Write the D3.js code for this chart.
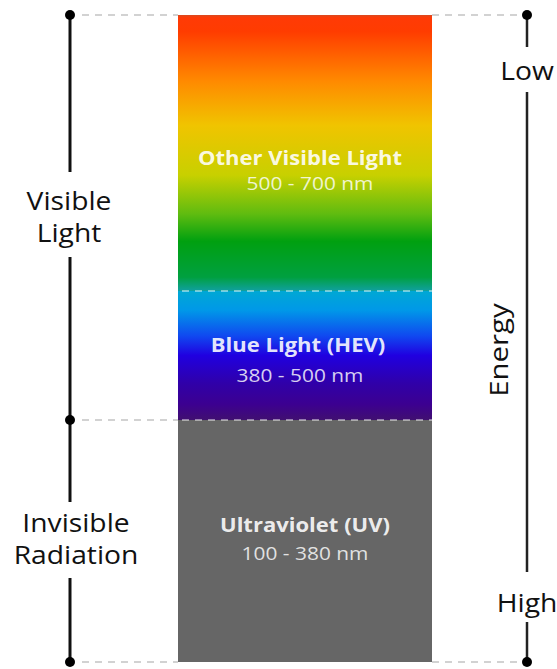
<!DOCTYPE html>
<meta charset="utf-8">
<style>
	body{ margin:0; background:#fff; }
	svg{ display:block; font-family:"Open Sans", sans-serif; }
	.guide{ stroke:#c4c4c4; stroke-width:1.5; stroke-dasharray:7,6; }
	.guide.inner{ stroke:#fff; stroke-opacity:0.6; }
	.side{ font-size:25px; fill:#111; text-anchor:middle; }
	.title{ font-size:19.5px; font-weight:700; fill:#fff; fill-opacity:0.9; text-anchor:middle; }
	.sub{ font-size:18.5px; fill:#fff; fill-opacity:0.82; text-anchor:middle; }
</style>
<body>
<svg width="557" height="669" id="chart"></svg>
<script src="https://cdn.jsdelivr.net/npm/d3@7"></script>
<script>
	// band edges in nm, top to bottom
	var edges = [700, 500, 380, 100];
	var bandNames = ["Other Visible Light", "Blue Light (HEV)", "Ultraviolet (UV)"];
	var bandRanges = ["500 - 700 nm", "380 - 500 nm", "100 - 380 nm"];
	var groupNames = [["Visible", "Light"], ["Invisible", "Radiation"]];
	var energyLabels = ["Low", "Energy", "High"];

	// colour stops, offset 0..1 within each band
	var visibleStops = [[0, "#d84a20"], [0.01, "#ff3a06"], [0.06, "#ff3c00"], [0.24, "#ff8a00"], [0.4, "#f0c400"], [0.58, "#c8d000"], [0.72, "#60bc10"], [0.82, "#00a010"], [0.95, "#00a040"], [1, "#10a0a0"]];
	var blueStops = [[0, "#00a8d4"], [0.15, "#0098e8"], [0.35, "#1048f0"], [0.5, "#2000e0"], [0.72, "#3000a8"], [0.88, "#3c0090"], [1, "#401070"]];
	var uvColor = "#666666";

	var svg = d3.select("#chart");
	var y = d3.scaleLinear().domain(edges).range([15, 291, 420, 662]);
	var x0 = 178, x1 = 432, leftX = 70, rightX = 527;
	var stretch = 1.13; // text in the picture is a little wide

	var defs = svg.append("defs");
	function grad(id, stops){
		var g = defs.append("linearGradient").attr("id", id)
			.attr("x1", 0).attr("x2", 0).attr("y1", 0).attr("y2", 1);
		g.selectAll("stop").data(stops).enter().append("stop")
			.attr("offset", function(d){ return d[0]; })
			.attr("stop-color", function(d){ return d[1]; });
	}
	grad("gVis", visibleStops);
	grad("gBlue", blueStops);
	var fills = ["url(#gVis)", "url(#gBlue)", uvColor];

	var bands = bandNames.map(function(n, i){
		return {name:n, range:bandRanges[i], top:edges[i], bottom:edges[i+1], fill:fills[i]};
	});

	svg.selectAll("rect.band").data(bands).enter().append("rect")
		.attr("class", "band")
		.attr("x", x0).attr("width", x1 - x0)
		.attr("y", function(d){ return y(d.top); })
		.attr("height", function(d){ return y(d.bottom) - y(d.top); })
		.attr("fill", function(d){ return d.fill; });

	// dashed guides
	var guides = [
		[82, x0, 700], [x1, rightX - 8, 700],
		[82, x0, 380],
		[82, x0, 100], [x1, rightX - 8, 100]
	];
	svg.selectAll("line.outer").data(guides).enter().append("line")
		.attr("class", "guide")
		.attr("x1", function(d){ return d[0]; }).attr("x2", function(d){ return d[1]; })
		.attr("y1", function(d){ return y(d[2]); }).attr("y2", function(d){ return y(d[2]); });
	svg.selectAll("line.inner").data([500, 380]).enter().append("line")
		.attr("class", "guide inner")
		.attr("x1", x0 + 4).attr("x2", x1)
		.attr("y1", function(d){ return y(d); }).attr("y2", function(d){ return y(d); });

	function label(cls, x, yy, txt, rot){
		return svg.append("text").attr("class", cls)
			.attr("transform", "translate(" + x + "," + yy + ")" + (rot ? " rotate(-90)" : "") + " scale(" + stretch + ",1)")
			.text(txt);
	}

	// band labels: [title x, title y, sub x, sub y]
	var labelPos = [[300, 165, 310, 190], [298, 352, 300, 382], [305, 532, 305, 560]];
	bands.forEach(function(d, i){
		var p = labelPos[i];
		label("title", p[0], p[1], d.name);
		label("sub", p[2], p[3], d.range);
	});

	// left bracket
	var gaps = [[172, 257], [502, 578]];
	var segs = [[y(700), gaps[0][0]], [gaps[0][1], gaps[1][0]], [gaps[1][1], y(100)]];
	svg.selectAll("line.lseg").data(segs).enter().append("line")
		.attr("x1", leftX).attr("x2", leftX)
		.attr("y1", function(d){ return d[0]; }).attr("y2", function(d){ return d[1]; })
		.attr("stroke", "#111").attr("stroke-width", 3);
	svg.selectAll("circle.ldot").data([700, 380, 100]).enter().append("circle")
		.attr("cx", leftX).attr("cy", function(d){ return y(d); }).attr("r", 5).attr("fill", "#000");
	var sideX = [69, 76], sideY = [[210, 242], [532, 564]];
	groupNames.forEach(function(g, i){
		label("side", sideX[i], sideY[i][0], g[0]);
		label("side", sideX[i], sideY[i][1], g[1]);
	});

	// right energy axis
	var rsegs = [[y(700), 47], [92, 572], [622, y(100)]];
	svg.selectAll("line.rseg").data(rsegs).enter().append("line")
		.attr("x1", rightX).attr("x2", rightX)
		.attr("y1", function(d){ return d[0]; }).attr("y2", function(d){ return d[1]; })
		.attr("stroke", "#222").attr("stroke-width", 2.5);
	svg.selectAll("circle.rdot").data([700, 100]).enter().append("circle")
		.attr("cx", rightX).attr("cy", function(d){ return y(d); }).attr("r", 5).attr("fill", "#000");
	label("side", rightX, 80, energyLabels[0]);
	label("side", 508, 350, energyLabels[1], true).style("font-size", "26px");
	label("side", rightX, 612, energyLabels[2]);
</script>
</body>
